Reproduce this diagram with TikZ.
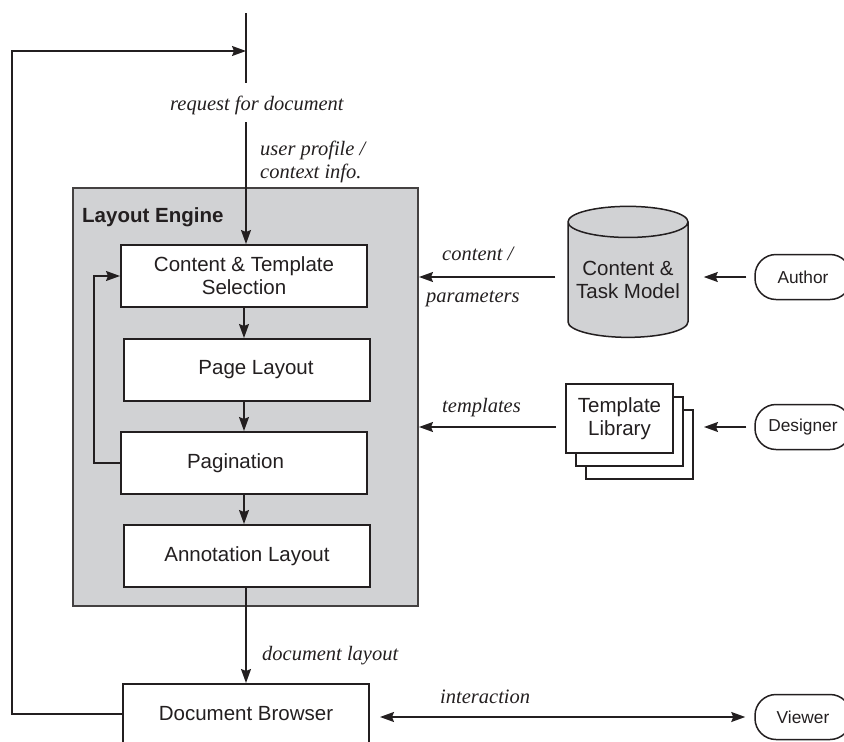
\documentclass[tikz,border=0pt]{standalone}
\usepackage{fontspec}
\setmainfont{Liberation Serif}
\setsansfont{Liberation Sans}
\usepackage{tikz}
\usetikzlibrary{positioning,calc,shapes.geometric,shadows,arrows.meta}
\definecolor{ink}{HTML}{231F20}
\definecolor{engray}{HTML}{D1D2D4}
\newcommand{\boxfont}{\sffamily\fontsize{20.5}{23}\selectfont}
\newcommand{\actfont}{\sffamily\fontsize{17.3}{20}\selectfont}
\newcommand{\lblfont}{\rmfamily\itshape\fontsize{20.5}{23}\selectfont}

\begin{document}
\begin{tikzpicture}[x=1pt, y=-1pt,
  proc/.style={rectangle, draw=ink, line width=2pt, fill=white, font=\boxfont\color{ink}, align=center, minimum width=246pt, minimum height=62pt, inner sep=0pt},
  actor/.style={rectangle, rounded corners=21pt, draw=ink, line width=1.5pt, fill=white, font=\actfont\color{ink}, minimum width=96pt, minimum height=45pt},
  lbl/.style={font=\lblfont\color{ink}, inner sep=0pt, anchor=base west},
  wire/.style={draw=ink, line width=1.5pt},
  arr/.style={wire, -{Stealth[length=14pt,width=10pt,inset=2pt]}},
  dbl/.style={wire, {Stealth[length=14pt,width=10pt,inset=2pt]}-{Stealth[length=14pt,width=10pt,inset=2pt]}}
]
  \useasboundingbox (0,0) rectangle (844,742);

  \node[rectangle, draw=ink!85, line width=2pt, fill=engray, minimum width=345pt, minimum height=418pt] (engine) at (245.5,397) {};
  \node[font=\boxfont\bfseries\color{ink}, inner sep=0pt, anchor=base west] (engtitle) at (82,222) {Layout Engine};

  \node[proc] (sel)   at (244,276) {Content \& Template\\Selection};
  \node[proc] (page)  at (247,370) {\hspace*{18pt}Page Layout};
  \node[proc] (pagin) at (244,463) {Pagination\hspace*{17pt}};
  \node[proc] (annot) at (247,556) {Annotation Layout};
  \node[proc, minimum height=60pt] (browser) at (246,714) {Document Browser};

  \node[cylinder, shape border rotate=90, draw=ink, line width=1.5pt, fill=engray, shape aspect=0.3, minimum width=120pt, minimum height=131pt, align=center, font=\boxfont\color{ink}, inner sep=0pt] (db) at (628,280) {Content \&\\Task Model};
  \node[rectangle, draw=ink, line width=2pt, fill=white, minimum width=107pt, minimum height=69pt, align=center, font=\boxfont\color{ink}, inner sep=0pt, double copy shadow={shadow xshift=10pt, shadow yshift=-13pt}] (tpl) at (619.5,418.5) {Template\\Library};

  \node[actor] (author)   at (803,277) {Author};
  \node[actor] (designer) at (803,427) {Designer};
  \node[actor] (viewer)   at (803,717) {Viewer};

  \coordinate (top)    at (246,13);
  \coordinate (tee)    at (246,51);
  \coordinate (corner) at (12,51);

  \node[lbl] (req)   at (170,110) {request for document};
  \node[lbl] (prof)  at (260,155) {user profile /};
  \node[lbl] (ctx)   at (260,178) {context info.};
  \node[lbl] (cont)  at (442,260) {content /};
  \node[lbl] (param) at (426,302) {parameters};
  \node[lbl] (tmps)  at (442,412) {templates};
  \node[lbl] (dlay)  at (262,660) {document layout};
  \node[lbl] (inter) at (440,703) {interaction};

  \draw[wire, shorten >=12pt] (top) -- (req.north -| top);
  \draw[arr, shorten <=7.5pt] (req.south -| top) -- (sel.north -| top);
  \draw[arr] (sel.south) -- (sel.south |- page.north);
  \draw[arr] (page.south -| sel.south) -- (pagin.north -| sel.south);
  \draw[arr] (pagin.south) -- (pagin.south |- annot.north);
  \draw[arr] (pagin.west) -- ++(-26,0) |- (sel.west);
  \draw[arr] (annot.south -| top) -- (browser.north -| top);
  \draw[arr] (browser.west) -| (corner) -- (tee);
  \draw[dbl] ([xshift=10pt]browser.east |- viewer) -- ([xshift=-9pt]viewer.west);

  \draw[arr] ([xshift=-8pt]author.west) -- ([xshift=15pt]db.east |- author);
  \draw[arr] ([xshift=-12pt]db.west |- author) -- (engine.east |- author);
  \draw[arr] ([xshift=-8pt]designer.west) -- ([xshift=30pt]tpl.east |- designer);
  \draw[arr] ([xshift=-9pt]tpl.west |- designer) -- (engine.east |- designer);
\end{tikzpicture}
\end{document}
